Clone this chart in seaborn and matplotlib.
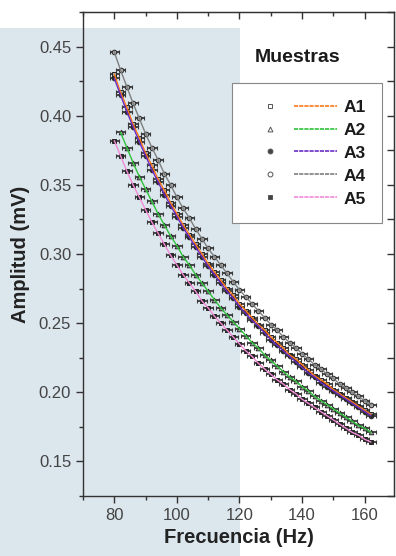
import matplotlib
matplotlib.use("Agg")
import matplotlib.pyplot as plt
from matplotlib.lines import Line2D
from matplotlib.patches import Rectangle
from matplotlib.legend_handler import HandlerTuple
from matplotlib.ticker import MultipleLocator
import pandas as pd
import seaborn as sns

# frecuencias (Hz)
freq = [80, 82, 84, 86, 88, 90, 92, 94, 96, 98, 100, 102, 104, 106,
        108, 110, 112, 114, 116, 118, 120, 122, 124, 126, 128, 130, 132,
        134, 136, 138, 140, 142, 144, 146, 148, 150, 152, 154, 156, 158,
        160, 162]

# amplitudes (mV)
a1 = [0.430, 0.417, 0.406, 0.394, 0.384, 0.373, 0.364, 0.354, 0.346, 0.337,
      0.329, 0.321, 0.314, 0.307, 0.300, 0.293, 0.287, 0.281, 0.275, 0.270,
      0.264, 0.259, 0.254, 0.249, 0.245, 0.240, 0.236, 0.232, 0.227, 0.224,
      0.220, 0.216, 0.212, 0.209, 0.206, 0.202, 0.199, 0.196, 0.193, 0.190,
      0.187, 0.184]
a2 = [None, 0.388, 0.377, 0.366, 0.356, 0.347, 0.338, 0.329, 0.321, 0.313,
      0.306, 0.298, 0.292, 0.285, 0.279, 0.273, 0.267, 0.261, 0.256, 0.251,
      0.246, 0.241, 0.236, 0.232, 0.227, 0.223, 0.219, 0.215, 0.211, 0.208,
      0.204, 0.201, 0.197, 0.194, 0.191, 0.188, 0.185, 0.182, 0.179, 0.176,
      0.174, 0.171]
a3 = [0.427, 0.415, 0.403, 0.392, 0.381, 0.371, 0.361, 0.352, 0.343, 0.335,
      0.327, 0.319, 0.312, 0.305, 0.298, 0.291, 0.285, 0.279, 0.273, 0.268,
      0.262, 0.257, 0.252, 0.248, 0.243, 0.238, 0.234, 0.230, 0.226, 0.222,
      0.218, 0.214, 0.211, 0.207, 0.204, 0.201, 0.198, 0.195, 0.192, 0.189,
      0.186, 0.183]
a4 = [0.446, 0.433, 0.421, 0.409, 0.398, 0.387, 0.377, 0.368, 0.358, 0.350,
      0.341, 0.333, 0.326, 0.318, 0.311, 0.304, 0.298, 0.292, 0.286, 0.280,
      0.274, 0.269, 0.264, 0.259, 0.254, 0.249, 0.245, 0.240, 0.236, 0.232,
      0.228, 0.224, 0.220, 0.217, 0.213, 0.210, 0.206, 0.203, 0.200, 0.197,
      0.194, 0.191]
a5 = [0.382, 0.371, 0.360, 0.350, 0.341, 0.332, 0.323, 0.315, 0.307, 0.299,
      0.292, 0.285, 0.279, 0.273, 0.266, 0.261, 0.255, 0.250, 0.245, 0.240,
      0.235, 0.230, 0.226, 0.221, 0.217, 0.213, 0.209, 0.206, 0.202, 0.199,
      0.195, 0.192, 0.189, 0.186, 0.183, 0.180, 0.177, 0.174, 0.171, 0.169,
      0.166, 0.164]
freq_err = 1.5

muestras = ["A1", "A2", "A3", "A4", "A5"]
series = {"A1": a1, "A2": a2, "A3": a3, "A4": a4, "A5": a5}

rows = []
for m in muestras:
    for f, a in zip(freq, series[m]):
        if a is not None:
            rows.append({"Muestra": m, "freq": f, "amp": a})
df = pd.DataFrame(rows)

line_colors = {"A1": "#ff7a1a", "A2": "#2fc23a", "A3": "#6a2cc4",
               "A4": "#7f7f7f", "A5": "#f28ad6"}
markers = {"A1": "s", "A2": "^", "A3": "o", "A4": "o", "A5": "s"}
faces = {"A1": "#a8a8a8", "A2": "#a8a8a8", "A3": "#2a2a2a",
         "A4": "#a8a8a8", "A5": "#2a2a2a"}

sns.set_style("ticks")
plt.rcParams["font.family"] = ["Liberation Sans", "DejaVu Sans"]

fig = plt.figure(figsize=(3.96, 5.56), dpi=100)
fig.patches.append(Rectangle((0, 0), 240 / 396, 528 / 556,
                             transform=fig.transFigure, facecolor="#dbe6ed",
                             edgecolor="none", zorder=-10))
ax = fig.add_axes([83 / 396, 60 / 556, 1 - 83 / 396 - 0.004, 484 / 556])
ax.patch.set_alpha(0)

for m in muestras:
    d = df[df["Muestra"] == m]
    ax.errorbar(d["freq"], d["amp"], xerr=freq_err, fmt="none",
                ecolor="#3a3a3a", elinewidth=1.3, capsize=1.2,
                capthick=0.8, zorder=2)
    sns.scatterplot(x=d["freq"], y=d["amp"], marker=markers[m], s=11,
                    color=faces[m], edgecolor="#262626", linewidth=0.7,
                    ax=ax, zorder=3)

sns.lineplot(data=df, x="freq", y="amp", hue="Muestra", palette=line_colors,
             linewidth=1.0, estimator=None, sort=False, legend=False,
             ax=ax, zorder=4)

ax.set_xlim(70, 169.5)
ax.set_ylim(0.125, 0.475)
ax.xaxis.set_major_locator(MultipleLocator(20))
ax.xaxis.set_minor_locator(MultipleLocator(10))
ax.yaxis.set_major_locator(MultipleLocator(0.05))
ax.yaxis.set_minor_locator(MultipleLocator(0.025))
ax.yaxis.set_major_formatter(matplotlib.ticker.FormatStrFormatter("%.2f"))
ax.tick_params(which="major", direction="out", length=5, width=1,
               labelsize=12, labelcolor="#444444", color="#333333")
ax.tick_params(which="minor", direction="out", length=3, width=1,
               color="#333333")
for s in ax.spines.values():
    s.set_visible(True)
    s.set_color("#333333")
    s.set_linewidth(1.0)

top = ax.secondary_xaxis("top")
top.xaxis.set_major_locator(MultipleLocator(20))
top.xaxis.set_minor_locator(MultipleLocator(10))
top.tick_params(which="major", direction="in", length=5, width=1,
                labeltop=False, color="#333333")
top.tick_params(which="minor", direction="in", length=3, width=1,
                color="#333333")
right = ax.secondary_yaxis("right")
right.yaxis.set_major_locator(MultipleLocator(0.05))
right.yaxis.set_minor_locator(MultipleLocator(0.025))
right.tick_params(which="major", direction="in", length=5, width=1,
                  labelright=False, color="#333333")
right.tick_params(which="minor", direction="in", length=5, width=1,
                  color="#333333")

ax.set_xlabel("Frecuencia (Hz)", fontsize=14.5, fontweight="bold",
              color="#222222", labelpad=4)
ax.set_ylabel("Amplitud (mV)", fontsize=14.5, fontweight="bold",
              color="#222222", labelpad=6)

handles = []
for m in muestras:
    mk = Line2D([], [], marker=markers[m], linestyle="none", markersize=3.5,
                markerfacecolor="#444444" if faces[m] == "#2a2a2a" else "white",
                markeredgecolor="#555555", markeredgewidth=0.7)
    ln = Line2D([], [], color=line_colors[m], linewidth=1.2,
                linestyle=(0, (2.5, 0.6)))
    handles.append((mk, ln))
leg = ax.legend(handles, muestras,
                handler_map={tuple: HandlerTuple(ndivide=None, pad=0.1)},
                loc="upper left", bbox_to_anchor=(232 / 396, 1 - 83 / 556),
                bbox_transform=fig.transFigure, borderaxespad=0,
                frameon=True, fancybox=False, edgecolor="#888888",
                framealpha=1, handlelength=5.1, handletextpad=0.35,
                borderpad=0.95, labelspacing=0.45,
                prop={"size": 12.5, "weight": "bold"})
leg.get_frame().set_linewidth(0.8)
for t in leg.get_texts():
    t.set_color("#1a1a1a")

fig.text(298 / 396, 1 - 58 / 556, "Muestras", ha="center", va="center",
         fontsize=14, fontweight="bold", color="#1a1a1a")

fig.savefig("out.png", dpi=100)
